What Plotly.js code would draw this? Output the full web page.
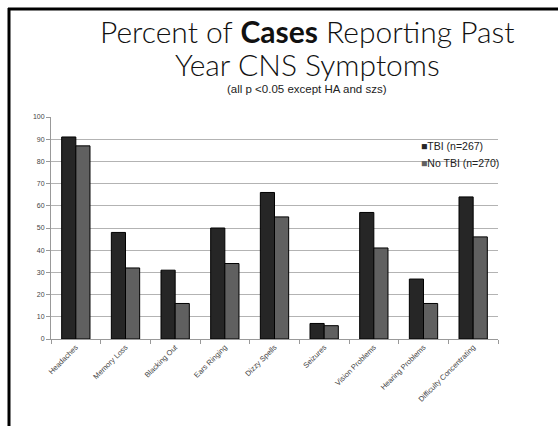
<!DOCTYPE html>
<html><head><meta charset="utf-8">
<script src="https://cdn.plot.ly/plotly-3.0.1.min.js"></script>
<style>html,body{margin:0;padding:0;background:#fff;}#chart{width:558px;height:426px;}</style>
</head><body><div id="chart"></div>
<script>
var categories = ["Headaches","Memory Loss","Blacking Out","Ears Ringing","Dizzy Spells","Seizures","Vision Problems","Hearing Problems","Difficulty Concentrating"];
var tbiValues = [91,48,31,50,66,7,57,27,64];
var noTbiValues = [87,32,16,34,55,6,41,16,46];
var seriesNames = ["TBI (n=267)","No TBI (n=270)"];
var seriesColors = ["#262626","#606060"];
var yTicks = [0,10,20,30,40,50,60,70,80,90,100];
var titleLines = ['Percent of <b>Cases</b> Reporting Past','Year CNS Symptoms'];
var subtitle = '(all p <0.05 except HA and szs)';

var W=558,H=426,L=51,R=60,T=117,B=87;
var pw=W-L-R, ph=H-T-B;
function px(x){return (x-L)/pw;}
function py(y){return (H-B-y)/ph;}

var traces=[
 {type:'bar',name:seriesNames[0],x:categories,y:tbiValues,marker:{color:seriesColors[0],line:{color:'#000',width:1}}},
 {type:'bar',name:seriesNames[1],x:categories,y:noTbiValues,marker:{color:seriesColors[1],line:{color:'#000',width:1}}}
];
var TF='Lato, Liberation Sans, Arial, sans-serif';
var SF='Liberation Sans, Arial, sans-serif';
var anns=[
 {text:titleLines[0],y:py(31),size:30},
 {text:titleLines[1],y:py(64),size:30}
].map(function(a){return {text:a.text,xref:'paper',yref:'paper',x:px(307),y:a.y,showarrow:false,xanchor:'center',yanchor:'middle',
  font:{family:TF,size:a.size,color:'#111',weight:300}};});
anns.push({text:subtitle,xref:'paper',yref:'paper',x:px(307),y:py(89),showarrow:false,xanchor:'center',yanchor:'middle',
  font:{size:11.5,color:'#222',family:SF}});
seriesNames.forEach(function(n,i){
 anns.push({text:'<span style="color:'+seriesColors[i]+'">■</span>'+n,xref:'paper',yref:'paper',x:px(419),y:py(146+17*i),
  showarrow:false,xanchor:'left',yanchor:'middle',font:{size:10.5,color:'#222',family:SF}});
});
var layout={
 width:W,height:H,margin:{l:L,r:R,t:T,b:B},
 paper_bgcolor:'#fff',plot_bgcolor:'#fff',
 barmode:'group',bargap:0.43,bargroupgap:0,showlegend:false,
 font:{family:SF,color:'#444',size:7},
 annotations:anns,
 xaxis:{type:'category',tickangle:-45,showline:true,linecolor:'#999',linewidth:1,ticks:'outside',tickson:'boundaries',
   ticklen:4,tickcolor:'#999',tickfont:{size:7.5,color:'#444'},showgrid:false},
 yaxis:{range:[0,100],tickvals:yTicks,showline:true,linecolor:'#999',linewidth:1,ticks:'outside',ticklen:4,tickcolor:'#999',
   showgrid:true,gridcolor:'#b3b3b3',gridwidth:1,tickfont:{size:7,color:'#444'},zeroline:false},
 shapes:[
  {type:'line',xref:'paper',yref:'paper',x0:px(9),x1:px(9),y0:py(8),y1:py(430),line:{color:'#000',width:3}},
  {type:'line',xref:'paper',yref:'paper',x0:px(8),x1:px(560),y0:py(9),y1:py(9),line:{color:'#000',width:3}}
 ]
};
Plotly.newPlot('chart',traces,layout,{displayModeBar:false,staticPlot:true});
</script></body></html>
